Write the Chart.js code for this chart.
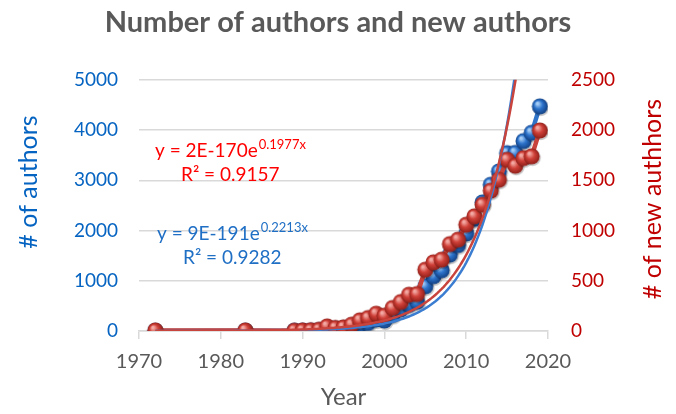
<!DOCTYPE html>
<html>
<head>
<meta charset="utf-8">
<title>Number of authors and new authors</title>
<script src="https://cdn.jsdelivr.net/npm/chart.js@4.4.1/dist/chart.umd.min.js"></script>
<style>
    html, body { margin: 0; padding: 0; background: #fff; }
    #wrap { width: 676px; height: 414px; position: relative; }
</style>
</head>
<body>
<div id="wrap"><canvas id="authorsChart" width="676" height="414"></canvas></div>
<script>
// Publication years
const years = [1972, 1983, 1989, 1990, 1991, 1992, 1993, 1994, 1995, 1996, 1997,
    1998, 1999, 2000, 2001, 2002, 2003, 2004, 2005, 2006, 2007, 2008, 2009,
    2010, 2011, 2012, 2013, 2014, 2015, 2016, 2017, 2018, 2019];

// Number of authors per year (left axis)
const authors = [2, 5, 5, 8, 10, 15, 40, 50, 55, 80, 120,
    160, 230, 210, 320, 430, 520, 580, 890, 1090, 1210, 1520, 1710,
    1940, 2230, 2560, 2910, 3175, 3540, 3545, 3780, 3945, 4470];

// Number of new authors per year (right axis)
const newAuthors = [5, 5, 3, 5, 7, 13, 46, 30, 36, 63, 106,
    129, 172, 153, 229, 288, 361, 368, 610, 683, 710, 865, 909,
    1058, 1141, 1257, 1396, 1505, 1704, 1645, 1721, 1738, 1996];

// Exponential trendlines as printed on the chart: y = a * e^(b*x)
const authorsTrend = [9e-191, 0.2213];
const newAuthorsTrend = [2e-170, 0.1977];

const yearTicks = [1970, 2020, 10];
const authorTicks = [0, 5000, 1000];
const newAuthorTicks = [0, 2500, 500];

const FONT = 'Lato, "Open Sans", sans-serif';

// Shaded ball used as the point marker
function makeBall(light, base, dark) {
    const c = document.createElement('canvas');
    c.width = 21;
    c.height = 21;
    const g = c.getContext('2d');
    g.fillStyle = 'rgba(0,0,0,0.22)';
    g.beginPath();
    g.arc(11.5, 12, 8.2, 0, Math.PI * 2);
    g.fill();
    const grad = g.createRadialGradient(8, 7.5, 1, 10.5, 10.5, 8.2);
    grad.addColorStop(0, light);
    grad.addColorStop(0.45, base);
    grad.addColorStop(1, dark);
    g.fillStyle = grad;
    g.beginPath();
    g.arc(10.5, 10.5, 8, 0, Math.PI * 2);
    g.fill();
    return c;
}

function trendPoints(coef) {
    const pts = [];
    for (let x = years[0]; x <= years[years.length - 1]; x += 0.25) {
        pts.push({ x: x, y: coef[0] * Math.exp(coef[1] * x) });
    }
    return pts;
}

function toPoints(values) {
    return years.map(function(y, i) { return { x: y, y: values[i] }; });
}

// Draws axis titles and trendline equations
const textPlugin = {
    id: 'chartText',
    afterDraw: function(chart) {
        const ctx = chart.ctx;
        ctx.save();

        ctx.font = '25px ' + FONT;
        ctx.textAlign = 'center';
        ctx.textBaseline = 'middle';
        ctx.fillStyle = '#0563c1';
        ctx.translate(29, 182);
        ctx.rotate(-Math.PI / 2);
        ctx.fillText('# of authors', 0, 0);
        ctx.setTransform(1, 0, 0, 1, 0, 0);

        ctx.fillStyle = '#c00000';
        ctx.translate(653, 199);
        ctx.rotate(-Math.PI / 2);
        ctx.fillText('# of new authhors', 0, 0);
        ctx.setTransform(1, 0, 0, 1, 0, 0);

        ctx.textAlign = 'left';
        ctx.textBaseline = 'alphabetic';
        function equation(x, y, main, sup, r2x, r2, color) {
            ctx.fillStyle = color;
            ctx.font = '19px ' + FONT;
            ctx.fillText(main, x, y);
            const w = ctx.measureText(main).width;
            ctx.font = '13px ' + FONT;
            ctx.fillText(sup, x + w + 1, y - 8);
            ctx.font = '19px ' + FONT;
            ctx.fillText(r2, r2x, y + 24);
        }
        equation(155, 157, 'y = 2E-170e', '0.1977x', 181, 'R\u00b2 = 0.9157', '#ff0000');
        equation(157, 240, 'y = 9E-191e', '0.2213x', 183, 'R\u00b2 = 0.9282', '#1f6fc5');

        ctx.restore();
    }
};

document.addEventListener('DOMContentLoaded', function() {
    const ctx = document.getElementById('authorsChart');

    new Chart(ctx, {
        type: 'line',
        data: {
            datasets: [
                {
                    label: 'New authors trend',
                    data: trendPoints(newAuthorsTrend),
                    yAxisID: 'yRight',
                    borderColor: '#c8443c',
                    borderWidth: 2.5,
                    pointRadius: 0,
                    tension: 0
                },
                {
                    label: 'Authors trend',
                    data: trendPoints(authorsTrend),
                    yAxisID: 'yLeft',
                    borderColor: '#3b7dd0',
                    borderWidth: 2.5,
                    pointRadius: 0,
                    tension: 0
                },
                {
                    label: 'New authors',
                    data: toPoints(newAuthors),
                    yAxisID: 'yRight',
                    borderColor: '#c8433b',
                    borderWidth: 4.5,
                    pointStyle: makeBall('#f3aaa4', '#cf4038', '#8e1f19'),
                    pointRadius: 8
                },
                {
                    label: 'Authors',
                    data: toPoints(authors),
                    yAxisID: 'yLeft',
                    borderColor: '#2f74c8',
                    borderWidth: 4.5,
                    pointStyle: makeBall('#a6cdf5', '#2c73cc', '#123f80'),
                    pointRadius: 8
                }
            ]
        },
        options: {
            responsive: false,
            animation: false,
            layout: { padding: 0 },
            plugins: {
                legend: { display: false },
                tooltip: { enabled: false },
                title: {
                    display: true,
                    text: 'Number of authors and new authors',
                    color: '#595959',
                    font: { family: FONT, size: 29, weight: 'bold' },
                    padding: { top: 5, bottom: 40 }
                }
            },
            scales: {
                x: {
                    type: 'linear',
                    min: yearTicks[0],
                    max: yearTicks[1],
                    ticks: {
                        stepSize: yearTicks[2],
                        color: '#595959',
                        font: { family: FONT, size: 20 },
                        padding: 11,
                        callback: function(v) { return String(v); }
                    },
                    grid: {
                        drawOnChartArea: false,
                        drawTicks: true,
                        tickLength: 8,
                        color: '#d9d9d9',
                        lineWidth: 1.5
                    },
                    border: { display: true, color: '#d9d9d9', width: 1.5 },
                    title: {
                        display: true,
                        text: 'Year',
                        color: '#595959',
                        font: { family: FONT, size: 24 },
                        padding: { top: 0, bottom: 2 }
                    },
                    afterFit: function(scale) { scale.height = 83; }
                },
                yLeft: {
                    position: 'left',
                    min: authorTicks[0],
                    max: authorTicks[1],
                    ticks: {
                        stepSize: authorTicks[2],
                        color: '#0563c1',
                        font: { family: FONT, size: 19 },
                        padding: 21,
                        callback: function(v) { return String(v); }
                    },
                    grid: { color: '#d9d9d9', lineWidth: 1.5, drawTicks: false },
                    border: { display: false },
                    afterFit: function(scale) { scale.width = 139; }
                },
                yRight: {
                    position: 'right',
                    min: newAuthorTicks[0],
                    max: newAuthorTicks[1],
                    ticks: {
                        stepSize: newAuthorTicks[2],
                        color: '#c00000',
                        font: { family: FONT, size: 19 },
                        padding: 23,
                        callback: function(v) { return String(v); }
                    },
                    grid: { drawOnChartArea: false, drawTicks: false },
                    border: { display: false },
                    afterFit: function(scale) { scale.width = 128; }
                }
            }
        },
        plugins: [textPlugin]
    });
});
</script>
</body>
</html>
